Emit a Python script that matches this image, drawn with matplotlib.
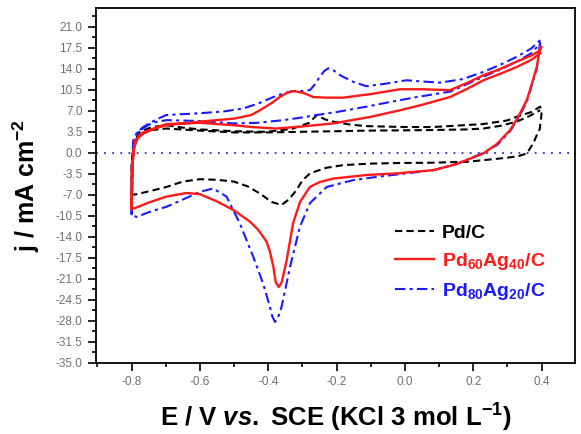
import matplotlib
matplotlib.use("Agg")
import matplotlib.pyplot as plt
from matplotlib.ticker import MultipleLocator, FormatStrFormatter

plt.rcParams["font.family"] = ["Liberation Sans", "DejaVu Sans"]
plt.rcParams["mathtext.fontset"] = "custom"
plt.rcParams["mathtext.rm"] = "Liberation Sans:bold"
plt.rcParams["mathtext.bf"] = "Liberation Sans:bold"
plt.rcParams["mathtext.it"] = "Liberation Sans:bold:italic"
plt.rcParams["mathtext.default"] = "bf"
plt.rcParams["axes.unicode_minus"] = False

# Pd/C : forward scan 1, reverse scan, forward scan 2
pd_up1_e = [-0.80, -0.80, -0.795, -0.776, -0.74, -0.698, -0.65, -0.60, -0.50, -0.405, -0.33, -0.28, -0.258,
            -0.235, -0.21, -0.16, -0.112, 0.0, 0.083, 0.23, 0.30, 0.327, 0.37, 0.396]
pd_up1_j = [-6.9, -2.0, 1.5, 3.5, 4.3, 4.6, 4.2, 3.9, 3.6, 3.5, 4.0, 5.0, 6.3,
            5.6, 5.2, 4.7, 4.45, 4.3, 4.3, 4.8, 5.4, 6.0, 6.8, 7.7]
pd_down_e = [0.396, 0.40, 0.395, 0.385, 0.376, 0.357, 0.33, 0.278, 0.181, 0.08, -0.014, -0.10, -0.18, -0.23,
             -0.277, -0.30, -0.317, -0.34, -0.361, -0.39, -0.424, -0.46, -0.50, -0.55, -0.60, -0.65, -0.698,
             -0.74, -0.785, -0.80]
pd_down_j = [7.7, 6.5, 4.0, 2.8, 1.6, -0.1, -0.6, -0.95, -1.5, -1.65, -1.7, -1.8, -2.05, -2.5,
             -3.4, -4.6, -6.2, -7.8, -8.7, -8.2, -6.8, -5.6, -4.8, -4.5, -4.4, -4.8, -5.7,
             -6.3, -6.9, -7.0]
pd_up2_e = [-0.80, -0.795, -0.78, -0.74, -0.698, -0.60, -0.50, -0.40, -0.307, -0.20, -0.112, 0.0, 0.083,
            0.18, 0.23, 0.28, 0.327, 0.36, 0.396]
pd_up2_j = [-7.0, 0.5, 3.0, 3.8, 4.05, 3.7, 3.4, 3.4, 3.5, 3.6, 3.7, 3.75, 3.8,
            3.9, 4.05, 4.5, 5.2, 6.0, 7.1]

# Pd60Ag40/C
pa64_up1_e = [-0.80, -0.80, -0.79, -0.766, -0.73, -0.698, -0.60, -0.50, -0.45, -0.424, -0.39, -0.366, -0.345,
              -0.327, -0.298, -0.268, -0.23, -0.18, -0.10, -0.014, 0.05, 0.132, 0.18, 0.23, 0.28, 0.327,
              0.37, 0.396]
pa64_up1_j = [-9.4, -3.0, 2.0, 3.2, 4.1, 4.6, 5.2, 5.7, 6.3, 7.1, 8.3, 9.3, 10.0,
              10.3, 10.0, 9.3, 9.2, 9.2, 9.8, 10.6, 10.6, 10.45, 11.6, 12.95, 14.0, 15.2,
              16.2, 17.1]
pa64_down_e = [0.396, 0.40, 0.396, 0.386, 0.37, 0.357, 0.33, 0.308, 0.27, 0.23, 0.15, 0.083, 0.0, -0.014,
               -0.112, -0.21, -0.25, -0.278, -0.307, -0.327, -0.346, -0.360, -0.369, -0.378, -0.385, -0.395,
               -0.405, -0.43, -0.453, -0.50, -0.55, -0.60, -0.639, -0.698, -0.75, -0.785, -0.80]
pa64_down_j = [17.1, 17.7, 17.7, 14.3, 11.2, 8.8, 5.8, 3.8, 1.5, -0.1, -1.9, -2.9, -3.3, -3.4,
               -3.7, -4.3, -4.9, -5.7, -8.2, -11.7, -17.9, -21.5, -22.4, -21.6, -19.0, -16.5,
               -14.8, -12.8, -11.5, -9.6, -8.1, -6.9, -6.7, -7.3, -8.3, -9.1, -9.4]
pa64_up2_e = [-0.80, -0.795, -0.78, -0.766, -0.698, -0.60, -0.50, -0.45, -0.376, -0.30, -0.21, -0.10, -0.014,
              0.05, 0.132, 0.18, 0.23, 0.28, 0.327, 0.37, 0.396]
pa64_up2_j = [-9.4, 0.5, 2.8, 3.4, 4.8, 5.0, 4.6, 4.3, 4.05, 4.4, 4.9, 6.0, 7.1,
              8.0, 9.3, 10.6, 12.1, 13.2, 14.3, 15.5, 16.6]

# Pd80Ag20/C
pa82_up1_e = [-0.80, -0.80, -0.795, -0.785, -0.766, -0.73, -0.698, -0.60, -0.53, -0.473, -0.43, -0.385, -0.35,
              -0.327, -0.30, -0.278, -0.262, -0.249, -0.235, -0.224, -0.21, -0.19, -0.15, -0.112, -0.06, 0.005,
              0.05, 0.103, 0.17, 0.23, 0.28, 0.327, 0.37, 0.396]
pa82_up1_j = [-10.4, -3.0, 2.1, 3.3, 4.3, 5.5, 6.3, 6.6, 6.9, 7.4, 8.2, 9.3, 10.0,
              10.3, 10.3, 10.45, 11.5, 12.7, 13.7, 14.1, 13.8, 12.95, 11.8, 11.1, 11.5, 12.1,
              11.9, 11.7, 12.3, 13.5, 14.7, 16.0, 17.4, 18.8]
pa82_down_e = [0.396, 0.40, 0.396, 0.386, 0.37, 0.357, 0.33, 0.308, 0.27, 0.23, 0.15, 0.083, -0.014, -0.08,
               -0.151, -0.229, -0.278, -0.307, -0.336, -0.361, -0.372, -0.38, -0.388, -0.395, -0.415, -0.444,
               -0.483, -0.522, -0.561, -0.60, -0.65, -0.698, -0.75, -0.785, -0.80]
pa82_down_j = [18.8, 18.9, 18.6, 14.0, 11.0, 8.5, 5.6, 3.6, 1.3, 0.0, -1.9, -2.9, -3.55, -4.0,
               -4.55, -5.7, -8.4, -12.3, -19.0, -25.7, -27.6, -28.2, -27.3, -25.7, -21.8, -17.3,
               -11.8, -7.3, -5.95, -6.5, -7.8, -9.0, -9.9, -10.7, -10.4]
pa82_up2_e = [-0.80, -0.795, -0.78, -0.74, -0.698, -0.60, -0.50, -0.43, -0.356, -0.30, -0.258, -0.20, -0.112,
              -0.05, 0.035, 0.132, 0.18, 0.23, 0.28, 0.327, 0.37, 0.396]
pa82_up2_j = [-10.4, 1.0, 3.6, 5.0, 5.45, 5.3, 4.9, 5.0, 5.45, 5.9, 6.3, 6.8, 7.7,
              8.4, 9.3, 10.2, 11.4, 12.7, 13.9, 15.2, 16.6, 18.2]

labels = ["Pd/C", r"Pd$_{60}$Ag$_{40}$/C", r"Pd$_{80}$Ag$_{20}$/C"]
label_colors = ["black", "#ff1a1a", "#1a1aff"]

fig = plt.figure(figsize=(5.81, 4.34), dpi=100)
ax = fig.add_axes([0.1647, 0.1643, 0.825, 0.8166])

ax.axhline(0, color="#2a2ad0", lw=1.3, ls=(0, (1, 3.5)), zorder=1)

ax.plot(pd_up1_e + pd_down_e + pd_up2_e, pd_up1_j + pd_down_j + pd_up2_j,
        color="black", lw=1.5, ls=(0, (3.5, 2)), label=labels[0])
ax.plot(pa82_up1_e + pa82_down_e + pa82_up2_e, pa82_up1_j + pa82_down_j + pa82_up2_j,
        color="#1a1aff", lw=1.5, ls=(0, (5, 2, 1.5, 2)), label=labels[2])
ax.plot(pa64_up1_e + pa64_down_e + pa64_up2_e, pa64_up1_j + pa64_down_j + pa64_up2_j,
        color="#ff1a1a", lw=1.7, ls="-", label=labels[1])

ax.set_xlim(-0.905, 0.498)
ax.set_ylim(-35, 24.1)
ax.xaxis.set_major_locator(MultipleLocator(0.2))
ax.xaxis.set_minor_locator(MultipleLocator(0.1))
ax.yaxis.set_major_locator(MultipleLocator(3.5))
ax.yaxis.set_minor_locator(MultipleLocator(1.75))
ax.xaxis.set_major_formatter(FormatStrFormatter("%.1f"))
ax.yaxis.set_major_formatter(FormatStrFormatter("%.1f"))
ax.tick_params(which="both", direction="out", width=1.2, colors="black",
               labelcolor="#707070", labelsize=8.5, top=False, right=False)
ax.tick_params(which="major", length=6)
ax.tick_params(which="minor", length=3)
for s in ax.spines.values():
    s.set_linewidth(1.3)

ax.set_xlabel(r"E / V $\mathit{vs.}$ SCE (KCl 3 mol L$^{-1}$)", fontsize=18.5, fontweight="bold", labelpad=10)
ax.set_ylabel(r"j / mA cm$^{-2}$", fontsize=18, fontweight="bold", labelpad=10)

handles, labs = ax.get_legend_handles_labels()
order = [0, 2, 1]
leg = ax.legend([handles[i] for i in order], [labs[i] for i in order], loc="upper left",
                bbox_to_anchor=(0.6245, 0.39), frameon=False, borderpad=0, borderaxespad=0,
                handlelength=2.0, handletextpad=0.4, labelspacing=0.45,
                prop={"weight": "bold", "size": 14})
for txt, c in zip(leg.get_texts(), label_colors):
    txt.set_color(c)

fig.savefig("out.png", dpi=100)
